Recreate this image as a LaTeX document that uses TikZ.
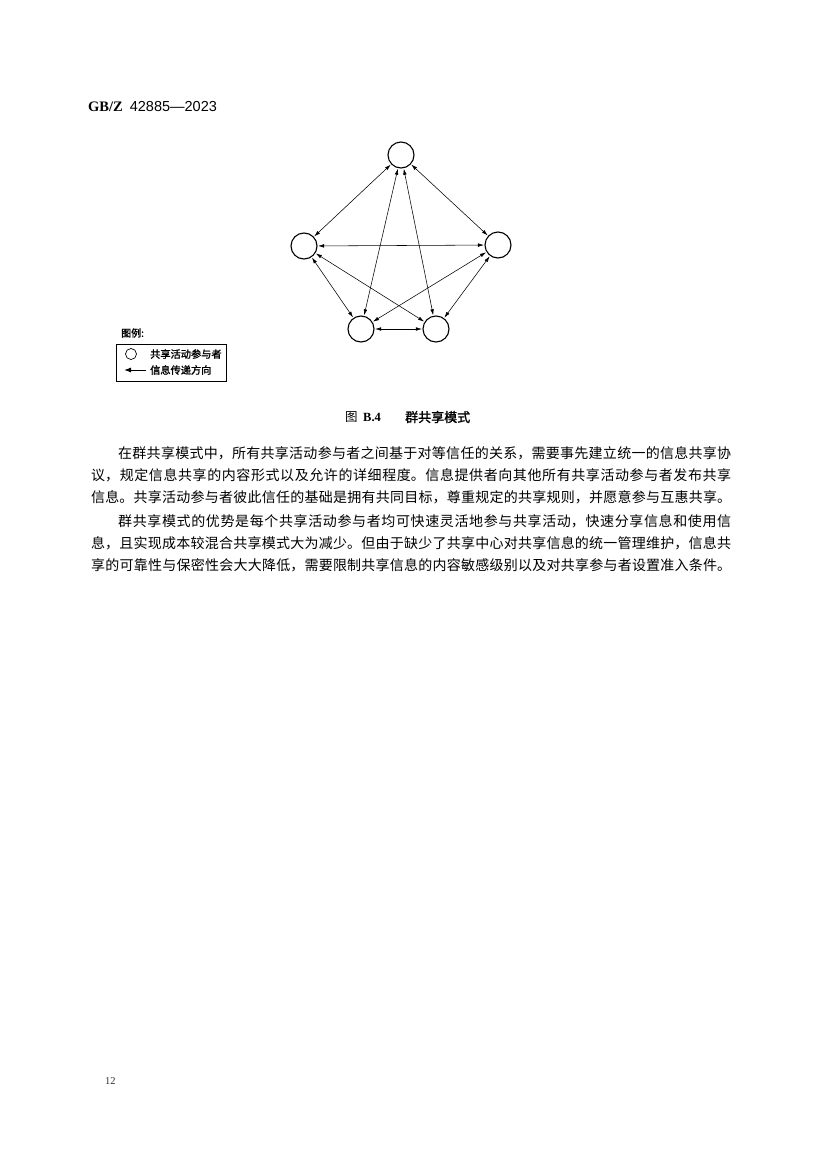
\documentclass[tikz,border=0pt]{standalone}
\usepackage{fontspec}
\setmainfont{Liberation Serif}
\newfontfamily\cjk{Noto Sans CJK SC}
\newfontfamily\cjkb[FakeBold=1.5]{Noto Sans CJK SC}
\newfontfamily\hsans{Liberation Sans}
\usetikzlibrary{arrows.meta}
\XeTeXlinebreaklocale "zh"
\XeTeXlinebreakskip=0pt plus 2pt
\begin{document}
\begin{tikzpicture}[x=1pt,y=-1pt,
  party/.style={circle,draw,line width=1.1pt,minimum size=26pt,inner sep=0pt},
  flow/.style={{Latex[length=6pt,width=3.6pt]}-{Latex[length=6pt,width=3.6pt]},line width=0.55pt,shorten <=0.5pt,shorten >=0.5pt},
  txt/.style={anchor=west,inner sep=0pt},
  para/.style={anchor=base west,inner sep=0pt,font=\cjk\fontsize{14}{22}\selectfont}]
\fill[white] (0,0) rectangle (827,1170);
\useasboundingbox (0,0) rectangle (827,1170);
% header
\node[txt] (hdr) at (88,107) {\fontsize{14.5}{14.5}\selectfont\bfseries GB/Z\hspace{7pt}\mdseries\hsans 42885—2023};
% participants
\node[party] (t) at (401,155) {};
\node[party] (l) at (304,246) {};
\node[party] (r) at (498,245) {};
\node[party] (bl) at (361,329) {};
\node[party] (br) at (436,329) {};
% flows
\draw[flow] (t) -- (l);
\draw[flow] (t) -- (r);
\draw[flow] (t) -- (bl);
\draw[flow] (t) -- (br);
\draw[flow] (l) -- (r);
\draw[flow] (l) -- (bl);
\draw[flow] (l) -- (br);
\draw[flow] (r) -- (bl);
\draw[flow] (r) -- (br);
\draw[flow] (bl) -- (br);
% legend
\node[txt,font=\cjkb\fontsize{10}{10}\selectfont] (lgt) at (121,333) {图例:};
\node[draw,line width=0.8pt,minimum width=110pt,minimum height=37pt,anchor=north west,inner sep=0pt] (lgbox) at (116,344) {};
\node[circle,draw,minimum size=11pt,inner sep=0pt,line width=0.7pt] (lgc) at (131,354) {};
\node[txt,font=\cjkb\fontsize{10.2}{10.2}\selectfont] (lg1) at (150,354) {共享活动参与者};
\coordinate (lga) at (146,370);
\coordinate (lgb) at (124,370);
\draw[-{Latex[length=7pt,width=5pt]},line width=1pt] (lga) -- (lgb);
\node[txt,font=\cjkb\fontsize{10.2}{10.2}\selectfont] (lg2) at (150,370) {信息传递方向};
% caption
\node[txt,font=\cjk\fontsize{12.5}{12.5}\selectfont] (cap1) at (345,417) {图};
\node[txt,font=\fontsize{12.5}{12.5}\selectfont\bfseries] (cap2) at (363,417) {B.4};
\node[txt,font=\cjkb\fontsize{13}{13}\selectfont] (cap3) at (405,417) {群共享模式};
% body text
\node[para] (p1) at (91,458) {\parbox[t]{640pt}{\parindent=0pt\parfillskip=0pt\hspace*{27pt}在群共享模式中，所有共享活动参与者之间基于对等信任的关系，需要事先建立统一的信息共享协\linebreak 议，规定信息共享的内容形式以及允许的详细程度。信息提供者向其他所有共享活动参与者发布共享\linebreak 信息。共享活动参与者彼此信任的基础是拥有共同目标，尊重规定的共享规则，并愿意参与互惠共享。}};
\node[para] (p2) at (91,526) {\parbox[t]{640pt}{\parindent=0pt\parfillskip=0pt\hspace*{27pt}群共享模式的优势是每个共享活动参与者均可快速灵活地参与共享活动，快速分享信息和使用信\linebreak 息，且实现成本较混合共享模式大为减少。但由于缺少了共享中心对共享信息的统一管理维护，信息共\linebreak 享的可靠性与保密性会大大降低，需要限制共享信息的内容敏感级别以及对共享参与者设置准入条件。}};
% page number
\node[txt,font=\fontsize{10.5}{10.5}\selectfont,text=black!80] (pg) at (105,1081) {12};
\end{tikzpicture}
\end{document}
